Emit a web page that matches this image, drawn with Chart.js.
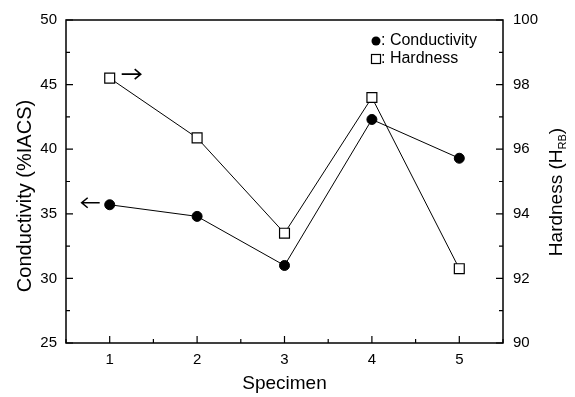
<!DOCTYPE html>
<html>
<head>
<meta charset="utf-8">
<script src="https://cdn.jsdelivr.net/npm/chart.js@4/dist/chart.umd.min.js"></script>
<style>
  html, body { margin: 0; padding: 0; background: #fff; }
  #wrap { width: 575px; height: 397px; }
</style>
</head>
<body>
<div id="wrap"><canvas id="c" width="575" height="397"></canvas></div>
<script>
// values
const specimens = [1, 2, 3, 4, 5];
const conductivity = [35.7, 34.8, 31.0, 42.3, 39.3];   // %IACS, left axis
const hardness = [98.2, 96.35, 93.4, 97.6, 92.3];     // HRB, right axis
const xTicks = [1, 2, 3, 4, 5];
const leftTicks = [25, 30, 35, 40, 45, 50];
const rightTicks = [90, 92, 94, 96, 98, 100];

const FONT = 'Arial, "Liberation Sans", Helvetica, sans-serif';

// ticks point inward, frame on all four sides, legend, arrows and y titles
const decor = {
  id: 'decor',
  afterDraw(chart) {
    const { ctx, chartArea: a, scales } = chart;
    const x = scales.x, yl = scales.y, yr = scales.y1;
    ctx.save();
    ctx.strokeStyle = '#000';
    ctx.lineWidth = 1.5;
    ctx.strokeRect(a.left, a.top, a.right - a.left, a.bottom - a.top);

    ctx.lineWidth = 1.2;
    ctx.beginPath();
    for (let v = 0.5; v <= 5.5; v += 0.5) {
      const px = x.getPixelForValue(v);
      const len = Number.isInteger(v) ? 7 : 4;
      ctx.moveTo(px, a.bottom); ctx.lineTo(px, a.bottom - len);
    }
    for (let v = 25; v <= 50; v += 2.5) {
      const py = yl.getPixelForValue(v);
      const len = v % 5 === 0 ? 7 : 4;
      ctx.moveTo(a.left, py); ctx.lineTo(a.left + len, py);
    }
    for (let v = 90; v <= 100; v += 1) {
      const py = yr.getPixelForValue(v);
      const len = v % 2 === 0 ? 7 : 4;
      ctx.moveTo(a.right, py); ctx.lineTo(a.right - len, py);
    }
    ctx.stroke();

    // arrows telling which axis each series uses
    const arrow = (x0, x1, y) => {
      const d = x1 > x0 ? -1 : 1;
      ctx.beginPath();
      ctx.moveTo(x0, y); ctx.lineTo(x1, y);
      ctx.moveTo(x1 + d * 6, y - 5); ctx.lineTo(x1, y); ctx.lineTo(x1 + d * 6, y + 5);
      ctx.lineWidth = 1.6;
      ctx.stroke();
    };
    const h0x = x.getPixelForValue(specimens[0]);
    arrow(h0x + 12, h0x + 31, yr.getPixelForValue(hardness[0]) - 4);
    arrow(h0x - 10, h0x - 28, yl.getPixelForValue(conductivity[0]) - 2);

    // legend
    ctx.fillStyle = '#000';
    ctx.font = '16px ' + FONT;
    ctx.textBaseline = 'middle';
    ctx.textAlign = 'left';
    const lx = 371, ly1 = 41, ly2 = 59;
    ctx.beginPath(); ctx.arc(lx + 5, ly1, 4.5, 0, Math.PI * 2); ctx.fill();
    ctx.fillText(': Conductivity', lx + 10, ly1);
    ctx.lineWidth = 1.2;
    ctx.strokeRect(lx + 0.5, ly2 - 4.5, 9, 9);
    ctx.fillText(': Hardness', lx + 10, ly2);

    // left axis title
    ctx.save();
    ctx.translate(25, 196);
    ctx.rotate(-Math.PI / 2);
    ctx.textAlign = 'center';
    ctx.font = '20px ' + FONT;
    ctx.fillText('Conductivity (%IACS)', 0, 0);
    ctx.restore();

    // right axis title with subscript
    ctx.translate(557, 192);
    ctx.rotate(-Math.PI / 2);
    const main = 'Hardness (H';
    const sub = 'RB';
    const close = ')';
    ctx.font = '19px ' + FONT;
    const w1 = ctx.measureText(main).width;
    const w3 = ctx.measureText(close).width;
    ctx.font = '11px ' + FONT;
    const w2 = ctx.measureText(sub).width;
    const sx = -(w1 + w2 + w3) / 2;
    ctx.font = '19px ' + FONT;
    ctx.fillText(main, sx, 0);
    ctx.font = '11px ' + FONT;
    ctx.fillText(sub, sx + w1, 6);
    ctx.font = '19px ' + FONT;
    ctx.fillText(close, sx + w1 + w2, 0);
    ctx.restore();
  }
};

new Chart(document.getElementById('c'), {
  type: 'line',
  data: {
    datasets: [
      {
        label: 'Conductivity',
        data: specimens.map((s, i) => ({ x: s, y: conductivity[i] })),
        yAxisID: 'y',
        borderColor: '#000',
        borderWidth: 1,
        pointStyle: 'circle',
        pointRadius: 5,
        pointBackgroundColor: '#000',
        pointBorderColor: '#000',
        tension: 0
      },
      {
        label: 'Hardness',
        data: specimens.map((s, i) => ({ x: s, y: hardness[i] })),
        yAxisID: 'y1',
        borderColor: '#000',
        borderWidth: 1,
        pointStyle: 'rect',
        pointRadius: 7,
        pointBorderWidth: 1.2,
        pointBackgroundColor: '#fff',
        pointBorderColor: '#000',
        tension: 0
      }
    ]
  },
  options: {
    responsive: false,
    animation: false,
    layout: { padding: { top: 20, left: 0, right: 0, bottom: 0 } },
    plugins: { legend: { display: false }, tooltip: { enabled: false } },
    scales: {
      x: {
        type: 'linear',
        min: 0.5,
        max: 5.5,
        afterBuildTicks: s => { s.ticks = xTicks.map(v => ({ value: v })); },
        afterFit: s => { s.height = 54; },
        grid: { display: false, drawTicks: false },
        border: { display: false },
        ticks: { color: '#000', padding: 8, font: { family: FONT, size: 15 } },
        title: { display: true, text: 'Specimen', color: '#000', padding: { top: 0, bottom: 2 }, font: { family: FONT, size: 19 } }
      },
      y: {
        position: 'left',
        min: 25,
        max: 50,
        afterBuildTicks: s => { s.ticks = leftTicks.map(v => ({ value: v })); },
        afterFit: s => { s.width = 66; },
        grid: { display: false, drawTicks: false },
        border: { display: false },
        ticks: { color: '#000', padding: 9, font: { family: FONT, size: 15 } }
      },
      y1: {
        position: 'right',
        min: 90,
        max: 100,
        afterBuildTicks: s => { s.ticks = rightTicks.map(v => ({ value: v })); },
        afterFit: s => { s.width = 72; },
        grid: { display: false, drawTicks: false },
        border: { display: false },
        ticks: { color: '#000', padding: 10, font: { family: FONT, size: 15 } }
      }
    }
  },
  plugins: [decor]
});
</script>
</body>
</html>
